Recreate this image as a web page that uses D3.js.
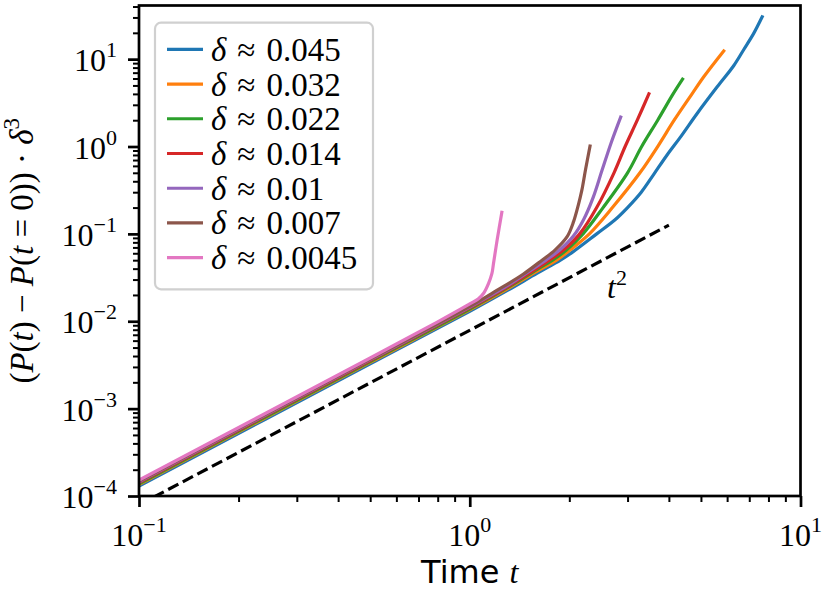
<!DOCTYPE html>
<html><head><meta charset="utf-8">
<script src="https://cdn.jsdelivr.net/npm/d3@7"></script>
<style>body{margin:0;background:#fff} svg{display:block}</style>
</head><body><svg id="c" width="830" height="593"></svg>
<script>
// ---- data ----
const deltaLabels = ["0.045","0.032","0.022","0.014","0.01","0.007","0.0045"];
const colors = ["#1f77b4","#ff7f0e","#2ca02c","#d62728","#9467bd","#8c564b","#e377c2"];
const s045 = [[0.1,1.30e-4],[0.5,3.25e-3],[1.0,0.0130],[1.3,0.0225],[1.6,0.0355],[1.88,0.050],[2.06,0.063],[2.42,0.10],[2.75,0.145],[3.0,0.20],[3.3,0.30],[3.6,0.48],[3.95,0.80],[4.34,1.29],[4.87,2.39],[5.6,4.82],[6.28,8.4],[6.74,12.9],[7.22,19.7],[7.66,30.5]];
const s032 = [[0.1,1.35e-4],[0.5,3.38e-3],[1.0,0.0135],[1.3,0.0235],[1.6,0.0375],[1.83,0.050],[2.01,0.0653],[2.30,0.10],[2.70,0.20],[3.27,0.50],[3.70,1.0],[4.15,2.0],[4.70,4.0],[5.10,6.28],[5.86,12.4]];
const s022 = [[0.1,1.38e-4],[0.5,3.45e-3],[1.0,0.0138],[1.3,0.0242],[1.6,0.0392],[1.78,0.050],[1.96,0.0653],[2.20,0.10],[2.53,0.20],[3.0,0.50],[3.31,1.0],[3.70,2.0],[4.12,4.0],[4.40,5.9]];
const s014 = [[0.1,1.42e-4],[0.5,3.55e-3],[1.0,0.0142],[1.3,0.0248],[1.6,0.0405],[1.74,0.050],[1.92,0.0653],[2.15,0.10],[2.42,0.20],[2.73,0.50],[2.95,1.0],[3.21,2.0],[3.48,4.0]];
const s010 = [[0.1,1.45e-4],[0.5,3.63e-3],[1.0,0.0145],[1.3,0.0255],[1.5,0.0365],[1.70,0.050],[1.87,0.0653],[2.06,0.095],[2.21,0.146],[2.36,0.26],[2.51,0.53],[2.68,1.12],[2.86,2.17]];
const s007 = [[0.1,1.48e-4],[0.5,3.7e-3],[1.0,0.0148],[1.2,0.0222],[1.45,0.0345],[1.654,0.050],[1.81,0.0653],[1.97,0.093],[2.06,0.138],[2.13,0.215],[2.18,0.31],[2.24,0.55],[2.31,1.01]];
const s0045 = [[0.1,1.52e-4],[0.5,3.8e-3],[0.8,0.00985],[1.0,0.0158],[1.06,0.0180],[1.10,0.0208],[1.14,0.0272],[1.167,0.0353],[1.18,0.046],[1.21,0.085],[1.25,0.176]];
const refLine = [[0.1,7.9e-5],[4.0,0.126]];
const xMajor = [0.1,1,10];
const xExp = ["\u22121","0","1"];
const yMajor = [1e-4,1e-3,1e-2,1e-1,1,10];
const yExp = ["\u22124","\u22123","\u22122","\u22121","0","1"];

const series = [s045,s032,s022,s014,s010,s007,s0045];

// ---- layout ----
const L=139, R=800.5, T=5.5, B=496;
const svg = d3.select("#c");
const x = d3.scaleLog().domain([0.1,10]).range([L,R]);
const y = d3.scaleLog().domain([1e-4,41.1]).range([B,T]);
const serif = "'Liberation Serif','DejaVu Serif',serif";
const FS = 32;

svg.append("defs").append("clipPath").attr("id","clip")
  .append("rect").attr("x",L).attr("y",T).attr("width",R-L).attr("height",B-T);

const line = d3.line().x(d=>x(d[0])).y(d=>y(d[1])).curve(d3.curveCatmullRom.alpha(0.5));
const g = svg.append("g").attr("clip-path","url(#clip)");
series.forEach((s,i)=>{
  g.append("path").attr("d",line(s)).attr("fill","none")
   .attr("stroke",colors[i]).attr("stroke-width",3.2).attr("stroke-linecap","square");
});
g.append("path").attr("d",d3.line().x(d=>x(d[0])).y(d=>y(d[1]))(refLine))
  .attr("fill","none").attr("stroke","#000").attr("stroke-width",3.2)
  .attr("stroke-dasharray","11.5,5");

// t^2 label
const tl = svg.append("text").attr("x",607).attr("y",298)
  .attr("font-family",serif).attr("font-size",FS);
tl.append("tspan").attr("font-style","italic").text("t");
tl.append("tspan").attr("font-size",22).attr("dy",-13).text("2");

// minor ticks
const minors = (lo,hi,maxv)=>{const a=[];for(let k=lo;k<=hi;k++)for(let j=2;j<=9;j++){const v=j*Math.pow(10,k);if(v<=maxv)a.push(v);}return a;};
const xMinor = minors(-1,0,10), yMinor = minors(-4,1,41.1);

function styleAxis(sel,w){sel.select(".domain").remove();sel.selectAll(".tick line").attr("stroke","#000").attr("stroke-width",w);sel.selectAll(".tick text").remove();}
svg.append("g").attr("transform",`translate(0,${B})`)
  .call(d3.axisBottom(x).tickValues(xMinor).tickSize(6).tickFormat("")).call(s=>styleAxis(s,2));
svg.append("g").attr("transform",`translate(0,${B})`)
  .call(d3.axisBottom(x).tickValues(xMajor).tickSize(11).tickFormat("")).call(s=>styleAxis(s,2.7));
svg.append("g").attr("transform",`translate(${L},0)`)
  .call(d3.axisLeft(y).tickValues(yMinor).tickSize(6).tickFormat("")).call(s=>styleAxis(s,2));
svg.append("g").attr("transform",`translate(${L},0)`)
  .call(d3.axisLeft(y).tickValues(yMajor).tickSize(11).tickFormat("")).call(s=>styleAxis(s,2.7));

// tick labels
xMajor.forEach((v,i)=>{
  const t = svg.append("text").attr("x",x(v)).attr("y",546).attr("text-anchor","middle")
    .attr("font-family",serif).attr("font-size",FS);
  t.append("tspan").text("10");
  t.append("tspan").attr("font-size",22).attr("dy",-14).text(xExp[i]);
});
yMajor.forEach((v,i)=>{
  const t = svg.append("text").attr("x",117).attr("y",y(v)+12).attr("text-anchor","end")
    .attr("font-family",serif).attr("font-size",FS);
  t.append("tspan").text("10");
  t.append("tspan").attr("font-size",22).attr("dy",-14).text(yExp[i]);
});

// spines
svg.append("rect").attr("x",L).attr("y",T).attr("width",R-L).attr("height",B-T)
  .attr("fill","none").attr("stroke","#000").attr("stroke-width",2.7);

// axis labels
const xl = svg.append("text").attr("x",(L+R)/2).attr("y",583).attr("text-anchor","middle").attr("font-size",FS);
xl.append("tspan").attr("font-family","'DejaVu Sans',sans-serif").text("Time ");
xl.append("tspan").attr("font-family",serif).attr("font-style","italic").text("t");

const yl = svg.append("text").attr("transform",`translate(33,${(T+B)/2}) rotate(-90)`)
  .attr("text-anchor","middle").attr("font-family",serif).attr("font-size",33);
const sp = "\u2005";
const parts = [["(",0],["P",1],["(",0],["t",1],[")"+sp+"\u2212"+sp,0],["P",1],["(",0],["t",1],[sp+"="+sp+"0))"+sp+"\u00b7"+sp,0],["\u03b4",1]];
parts.forEach(p=>yl.append("tspan").attr("font-style",p[1]?"italic":"normal").text(p[0]));
yl.append("tspan").attr("font-size",23).attr("dy",-14).text("3");

// legend
const lg = svg.append("g");
lg.append("rect").attr("x",155).attr("y",22.7).attr("width",218).attr("height",266.6).attr("rx",6)
  .attr("fill","#fff").attr("fill-opacity",0.8).attr("stroke","#d0d0d0").attr("stroke-width",2.2);
const rowY = d3.scaleLinear().domain([0,6]).range([49.3,257.7]);
deltaLabels.forEach((lab,i)=>{
  const yy = rowY(i);
  lg.append("line").attr("x1",167).attr("x2",203).attr("y1",yy).attr("y2",yy)
    .attr("stroke",colors[i]).attr("stroke-width",3.2);
  const t = lg.append("text").attr("x",211).attr("y",yy+11.5).attr("font-family",serif).attr("font-size",33);
  t.append("tspan").attr("font-style","italic").text("\u03b4");
  t.append("tspan").text("\u2004\u2248\u2004"+lab);
});
</script></body></html>
